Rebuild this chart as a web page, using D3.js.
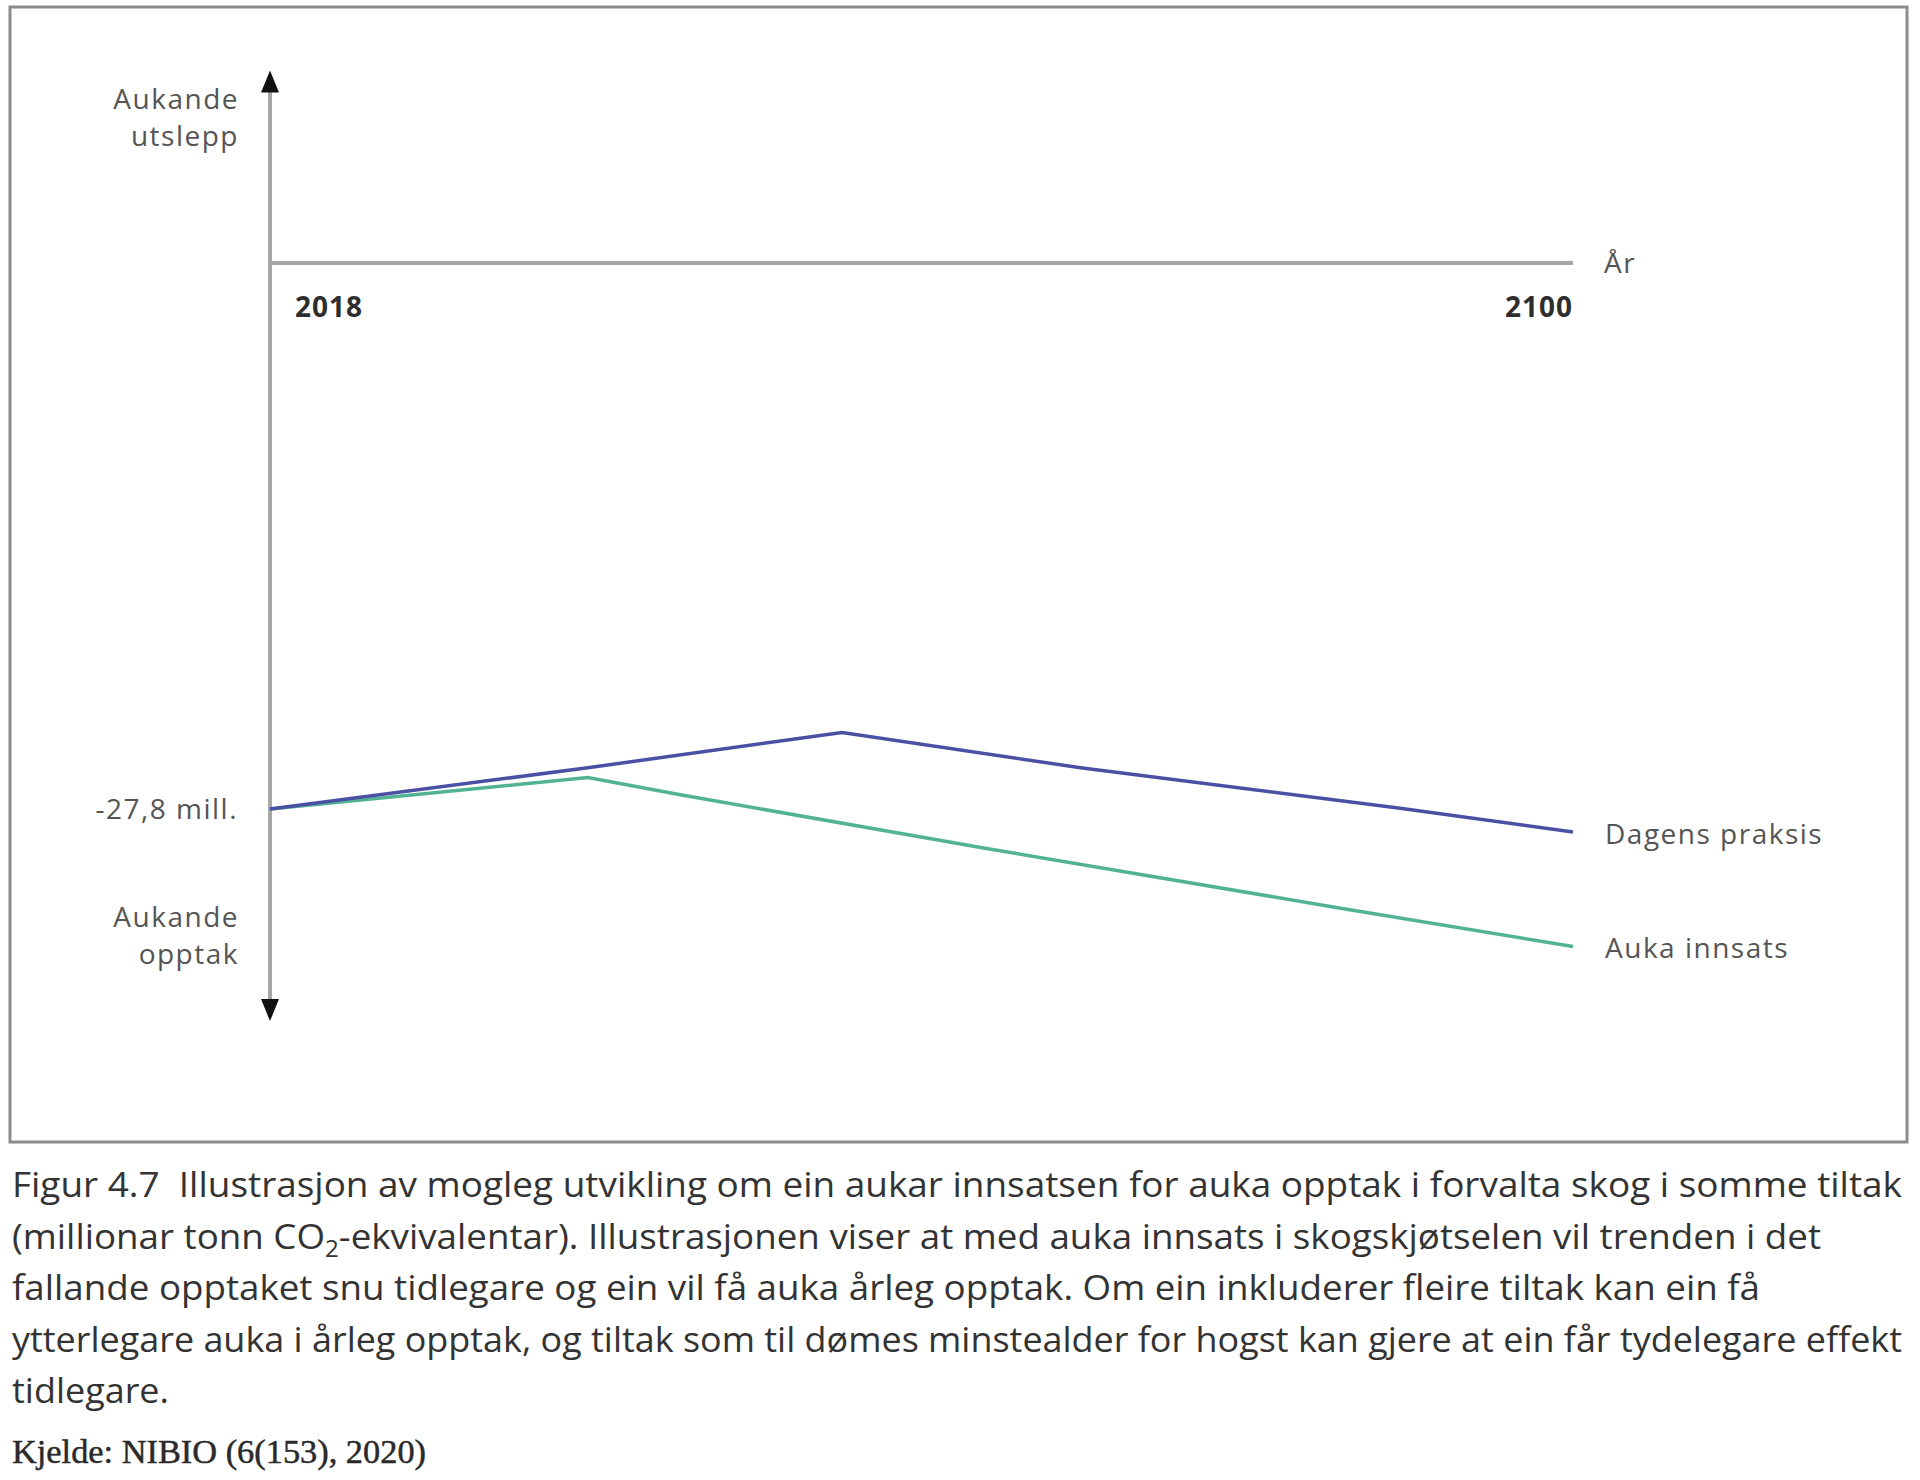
<!DOCTYPE html>
<html><head><meta charset="utf-8">
<script src="https://cdn.jsdelivr.net/npm/d3@7"></script>
<style>body{margin:0;background:#fff}svg{display:block}text{white-space:pre}</style>
</head><body>
<script>
// ---- data ----
const years = [2018, 2100];
const seriesNames = ["Dagens praksis", "Auka innsats"];
const dagensYears = [2018, 2038, 2054, 2069, 2089, 2100];
const dagensValues = [-27.8, -25.7, -23.9, -25.7, -27.75, -28.97];
const aukaYears = [2018, 2038, 2044, 2063, 2085, 2100];
const aukaValues = [-27.8, -26.2, -27.1, -29.8, -32.8, -34.8];
const startLabel = "-27,8 mill.";
const captionLines = [
  "Figur 4.7  Illustrasjon av mogleg utvikling om ein aukar innsatsen for auka opptak i forvalta skog i somme tiltak",
  "(millionar tonn CO|2|-ekvivalentar). Illustrasjonen viser at med auka innsats i skogskjøtselen vil trenden i det",
  "fallande opptaket snu tidlegare og ein vil få auka årleg opptak. Om ein inkluderer fleire tiltak kan ein få",
  "ytterlegare auka i årleg opptak, og tiltak som til dømes minstealder for hogst kan gjere at ein får tydelegare effekt",
  "tidlegare."
];
const captionWidths = [1890, 1809, 1748, 1890, 157];
const sourceText = "Kjelde: NIBIO (6(153), 2020)";

// ---- layout ----
const W = 1920, H = 1480;
const svg = d3.select("body").append("svg").attr("width", W).attr("height", H);

const x = d3.scaleLinear().domain(years).range([270, 1573]);
const y = d3.scaleLinear().domain([0, -27.8]).range([263, 809]);

// frame
svg.append("rect").attr("x", 10).attr("y", 7).attr("width", 1897).attr("height", 1135)
  .attr("fill", "none").attr("stroke", "#8c8c8c").attr("stroke-width", 3);

const axisCol = "#a6a6a6";
// vertical axis with arrows
const yTop = y(9.8), yBot = y(-38.6);
svg.append("line").attr("x1", x(2018)).attr("x2", x(2018)).attr("y1", yTop + 18).attr("y2", yBot - 18)
  .attr("stroke", axisCol).attr("stroke-width", 4);
svg.append("path").attr("d", `M${x(2018)},${yTop} l-9,22 l18,0 z`).attr("fill", "#111");
svg.append("path").attr("d", `M${x(2018)},${yBot} l-9,-22 l18,0 z`).attr("fill", "#111");
// horizontal axis
svg.append("line").attr("x1", x(2018)).attr("x2", x(2100)).attr("y1", y(0)).attr("y2", y(0))
  .attr("stroke", axisCol).attr("stroke-width", 4);

const lab = "'Open Sans', 'Noto Sans', sans-serif";
const txt = (t, xx, yy, opts = {}) => svg.append("text").text(t).attr("x", xx).attr("y", yy)
  .attr("font-family", lab).attr("font-size", opts.size || 28).attr("fill", opts.fill || "#555")
  .attr("letter-spacing", opts.ls == null ? 1.5 : opts.ls)
  .attr("font-weight", opts.weight || 400).attr("text-anchor", opts.anchor || "start");

txt("Aukande", 239, 109, {anchor: "end"});
txt("utslepp", 239, 146, {anchor: "end"});
txt("Aukande", 239, 927, {anchor: "end"});
txt("opptak", 239, 964, {anchor: "end"});
txt(startLabel, 238, y(-27.8) + 10, {anchor: "end"});
txt("År", 1604, y(0) + 10);
txt(String(years[0]), 295, 317, {weight: 700, fill: "#2e2e2e", ls: 1});
txt(String(years[1]), x(2100), 317, {weight: 700, fill: "#2e2e2e", anchor: "end", ls: 1});

// lines
const line = d3.line().x(d => x(d[0])).y(d => y(d[1]));
const dagens = dagensYears.map((yr, i) => [yr, dagensValues[i]]);
const auka = aukaYears.map((yr, i) => [yr, aukaValues[i]]);
svg.append("path").datum(auka).attr("d", line).attr("fill", "none")
  .attr("stroke", "#52b394").attr("stroke-width", 3.5);
svg.append("path").datum(dagens).attr("d", line).attr("fill", "none")
  .attr("stroke", "#4a50a3").attr("stroke-width", 3.5);

txt(seriesNames[0], 1605, y(dagensValues[dagensValues.length - 1]) + 12);
txt(seriesNames[1], 1605, y(aukaValues[aukaValues.length - 1]) + 12);

// caption
const capFont = "'Open Sans', 'Noto Sans', sans-serif";
captionLines.forEach((ln, i) => {
  const t = svg.append("text").attr("x", 12).attr("y", 1197 + i * 51.5)
    .attr("font-family", capFont).attr("font-size", 35).attr("fill", "#333")
    .attr("textLength", captionWidths[i]).attr("lengthAdjust", "spacingAndGlyphs");
  const parts = ln.split("|");
  if (parts.length === 1) t.text(ln);
  else {
    t.append("tspan").text(parts[0]);
    t.append("tspan").text(parts[1]).attr("font-size", 23).attr("dy", 8);
    t.append("tspan").text(parts[2]).attr("dy", -8);
  }
});
svg.append("text").text(sourceText).attr("x", 12).attr("y", 1463)
  .attr("font-family", "'Liberation Serif', 'DejaVu Serif', serif").attr("font-size", 34)
  .attr("fill", "#2a2a2a").attr("stroke", "#2a2a2a").attr("stroke-width", 0.5)
  .attr("textLength", 414).attr("lengthAdjust", "spacingAndGlyphs");
</script>
</body></html>
